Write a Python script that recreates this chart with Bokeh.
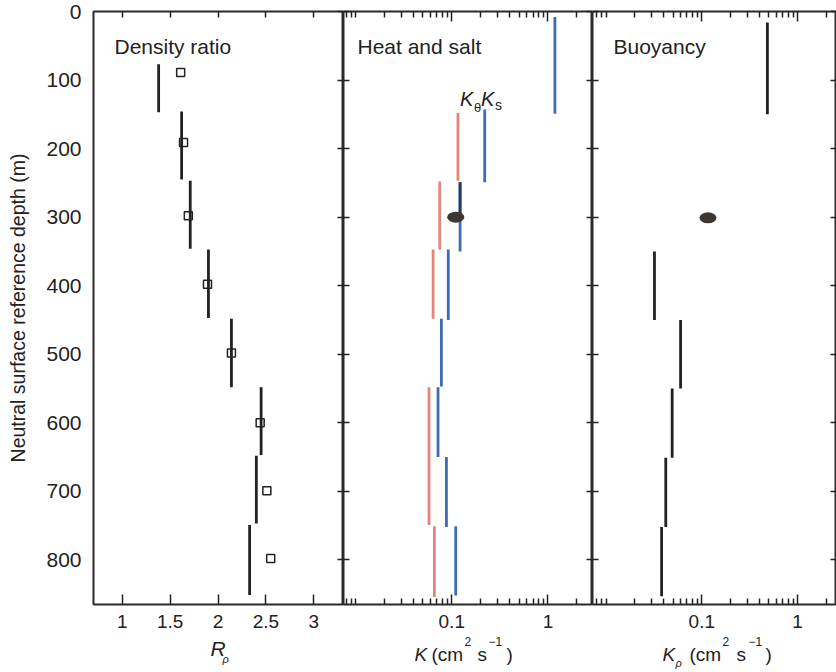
from bokeh.plotting import figure
from bokeh.layouts import row, column
from bokeh.models import (Range1d, FixedTicker, LinearAxis, LogAxis, Label,
                          NumeralTickFormatter)
from bokeh.embed import file_html
from bokeh.resources import INLINE

# ---------------- data ----------------
depth_ticks = [0, 100, 200, 300, 400, 500, 600, 700, 800]
rrho_ticks = [1, 1.5, 2, 2.5, 3]
k_major_ticks = [0.1, 1]
k_minor_ticks = [0.008, 0.009, 0.01, 0.02, 0.03, 0.04, 0.05, 0.06, 0.07, 0.08, 0.09,
                 0.2, 0.3, 0.4, 0.5, 0.6, 0.7, 0.8, 0.9, 2]

# Density ratio panel
rrho_bar_value = [1.38, 1.62, 1.71, 1.90, 2.14, 2.45, 2.40, 2.33]
rrho_bar_top = [77, 146, 247, 347, 448, 548, 648, 749]
rrho_bar_bottom = [147, 245, 346, 447, 548, 647, 747, 851]
rrho_point_depth = [89, 191, 298, 398, 498, 600, 699, 798]
rrho_point_value = [1.61, 1.64, 1.69, 1.89, 2.14, 2.44, 2.51, 2.55]

# Heat and salt panel
ktheta_value = [0.116, 0.075, 0.064, 0.058, 0.066]
ktheta_top = [148, 248, 347, 548, 751]
ktheta_bottom = [247, 347, 448, 749, 854]
ks_value = [1.18, 0.22, 0.122, 0.092, 0.078, 0.072, 0.088, 0.11]
ks_top = [8, 143, 249, 347, 448, 548, 650, 751]
ks_bottom = [149, 249, 350, 450, 547, 650, 752, 852]
ks_dark_value = [0.122]
ks_dark_top = [249]
ks_dark_bottom = [297]
heat_blob_value = [0.11]
heat_blob_depth = [300]

# Buoyancy panel
krho_value = [0.485, 0.032, 0.060, 0.049, 0.042, 0.038]
krho_top = [16, 350, 450, 550, 651, 752]
krho_bottom = [150, 450, 550, 651, 752, 853]
buoy_blob_value = [0.116]
buoy_blob_depth = [301]

# ---------------- style ----------------
FONT = "Liberation Sans"
INK = "#222222"
RED = "#e5857a"
BLUE = "#3d6cb0"
NAVY = "#263a5c"
BLOB = "#3b3631"

FRAME_H = 593
TOP = 11
BOTTOM = 32
H = TOP + FRAME_H + BOTTOM
LAB_H = 35


def make_fig(width, x_range, log, left_border):
    p = figure(width=width, height=H, x_range=x_range, y_range=Range1d(865, 0),
               x_axis_type="log" if log else "linear",
               x_axis_location=None, y_axis_location=None,
               output_backend="svg", toolbar_location=None,
               min_border_left=left_border, min_border_right=0,
               min_border_top=TOP, min_border_bottom=BOTTOM)
    p.grid.visible = False
    p.outline_line_color = "#2a2a2a"
    p.outline_line_width = 2
    p.background_fill_color = "white"
    p.border_fill_color = "white"
    return p


def tick_only(cls, ticks, tick_in):
    """Axis that draws only inward tick marks (as minor ticks, so no labels)."""
    return cls(ticker=FixedTicker(ticks=[], minor_ticks=ticks),
               major_tick_in=0, major_tick_out=0,
               minor_tick_in=tick_in, minor_tick_out=0, axis_line_color=None,
               minor_tick_line_color=INK, minor_tick_line_width=1.5)


def label_axis(cls, ticks, tick_in, minor_ticks=None, minor_in=0, size="19px", standoff=10):
    return cls(ticker=FixedTicker(ticks=ticks, minor_ticks=minor_ticks or []),
               major_tick_in=tick_in, major_tick_out=0,
               minor_tick_in=minor_in, minor_tick_out=0, axis_line_color=None,
               major_tick_line_color=INK, minor_tick_line_color=INK,
               major_tick_line_width=1.5, minor_tick_line_width=1.5,
               formatter=NumeralTickFormatter(format="0.[0]"),
               major_label_text_font=FONT, major_label_text_font_size=size,
               major_label_text_color=INK, major_label_standoff=standoff)


def txt(p, text, x, y, size, style="normal", xu="screen", yu="screen", xo=0, yo=0):
    # y is the intended text baseline; a small lift compensates for the descent
    lift = round(0.4 * size)
    p.add_layout(Label(x=x, y=y, x_units=xu, y_units=yu, x_offset=xo, y_offset=yo + lift,
                       text=text, text_font=FONT, text_font_size=f"{size}px",
                       text_font_style=style, text_color=INK,
                       text_baseline="alphabetic", text_align="left"))


# ---------------- panel 1: density ratio ----------------
p1 = make_fig(343, Range1d(0.70, 3.31), False, 93)
left = LinearAxis(ticker=FixedTicker(ticks=depth_ticks), major_tick_in=0, major_tick_out=0,
                  minor_tick_in=0, minor_tick_out=0, axis_line_color=None,
                  major_label_text_font=FONT, major_label_text_font_size="21px",
                  major_label_text_color=INK, major_label_standoff=12,
                  axis_label="Neutral surface reference depth (m)",
                  axis_label_text_font=FONT, axis_label_text_font_size="19.5px",
                  axis_label_text_font_style="normal", axis_label_text_color=INK,
                  axis_label_standoff=14)
p1.add_layout(left, "left")
p1.add_layout(tick_only(LinearAxis, depth_ticks, 6), "right")
p1.add_layout(tick_only(LinearAxis, rrho_ticks, 6), "above")
p1.add_layout(label_axis(LinearAxis, rrho_ticks, 10), "below")

p1.segment(x0=rrho_bar_value, y0=rrho_bar_top, x1=rrho_bar_value, y1=rrho_bar_bottom,
           line_color=INK, line_width=2.8)
p1.scatter(x=rrho_point_value, y=rrho_point_depth, marker="square", size=8,
           fill_color=None, line_color=INK, line_width=1.5)

txt(p1, "Density ratio", 21, FRAME_H - 43, 21)

# ---------------- panel 2: heat and salt ----------------
p2 = make_fig(249, Range1d(0.0075, 2.9), True, 0)
p2.add_layout(tick_only(LinearAxis, depth_ticks, 6), "left")
p2.add_layout(tick_only(LinearAxis, depth_ticks, 6), "right")
p2.add_layout(tick_only(LogAxis, k_major_ticks, 10), "above")
p2.add_layout(tick_only(LogAxis, k_minor_ticks, 6), "above")
p2.add_layout(label_axis(LogAxis, k_major_ticks, 10, k_minor_ticks, 6), "below")

p2.segment(x0=ktheta_value, y0=ktheta_top, x1=ktheta_value, y1=ktheta_bottom,
           line_color=RED, line_width=2.8)
p2.segment(x0=ks_value, y0=ks_top, x1=ks_value, y1=ks_bottom,
           line_color=BLUE, line_width=2.8)
p2.segment(x0=ks_dark_value, y0=ks_dark_top, x1=ks_dark_value, y1=ks_dark_bottom,
           line_color=NAVY, line_width=2.8)
p2.ellipse(x=heat_blob_value, y=heat_blob_depth, width=17, height=11,
           width_units="screen", height_units="screen",
           fill_color=BLOB, line_color=None)

txt(p2, "Heat and salt", 14, FRAME_H - 43, 21)
txt(p2, "K", 0.122, 140, 20, "italic", xu="data", yu="data")
txt(p2, "θ", 0.122, 140, 13, xu="data", yu="data", xo=14, yo=-5)
txt(p2, "K", 0.122, 140, 20, "italic", xu="data", yu="data", xo=21)
txt(p2, "s", 0.122, 140, 14, xu="data", yu="data", xo=35, yo=-4)

# ---------------- panel 3: buoyancy ----------------
p3 = make_fig(244, Range1d(0.0072, 2.56), True, 0)
p3.add_layout(tick_only(LinearAxis, depth_ticks, 6), "left")
p3.add_layout(tick_only(LinearAxis, depth_ticks, 6), "right")
p3.add_layout(tick_only(LogAxis, k_major_ticks, 10), "above")
p3.add_layout(tick_only(LogAxis, k_minor_ticks, 6), "above")
p3.add_layout(label_axis(LogAxis, k_major_ticks, 10, k_minor_ticks, 6), "below")

p3.segment(x0=krho_value, y0=krho_top, x1=krho_value, y1=krho_bottom,
           line_color=INK, line_width=2.8)
p3.ellipse(x=buoy_blob_value, y=buoy_blob_depth, width=17, height=11,
           width_units="screen", height_units="screen",
           fill_color=BLOB, line_color=None)

txt(p3, "Buoyancy", 21, FRAME_H - 43, 21)

# ---------------- x-axis titles strip ----------------
pl = figure(width=836, height=LAB_H, x_range=Range1d(0, 1), y_range=Range1d(0, 1),
            x_axis_location=None, y_axis_location=None, min_border=0,
            output_backend="svg", toolbar_location=None)
pl.grid.visible = False
pl.outline_line_color = None
pl.border_fill_color = "white"

txt(pl, "R", 210, 15, 21, "italic")
txt(pl, "ρ", 222, 9, 11, "italic")

txt(pl, "K", 414, 9, 19, "italic")
txt(pl, "(cm", 431, 9, 19)
txt(pl, "2", 464, 25, 12)
txt(pl, "s", 477, 9, 19)
txt(pl, "−1", 488, 25, 12)
txt(pl, ")", 506, 9, 19)

txt(pl, "K", 662, 9, 19, "italic")
txt(pl, "ρ", 675, 5, 11, "italic")
txt(pl, "(cm", 689, 9, 19)
txt(pl, "2", 722, 25, 12)
txt(pl, "s", 736, 9, 19)
txt(pl, "−1", 748, 25, 12)
txt(pl, ")", 765, 9, 19)

layout = column(row(p1, p2, p3), pl)
open("out.html", "w").write(file_html(layout, INLINE))
